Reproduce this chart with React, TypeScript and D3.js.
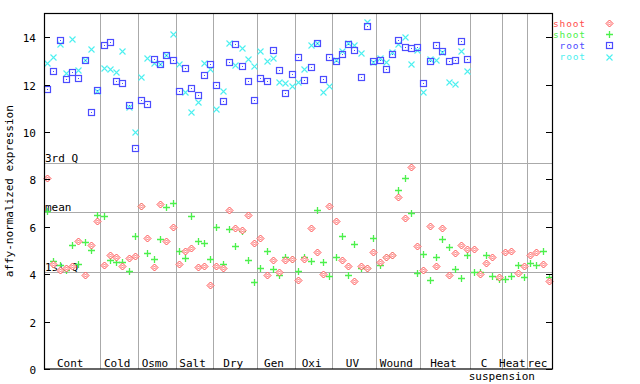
import React from "react";
import * as d3 from "d3";

const groupNames = ["Cont", "Cold", "Osmo", "Salt", "Dry", "Gen", "Oxi", "UV", "Wound", "Heat", "C", "Heat", "rec"];
const groupSizes = [9, 6, 6, 6, 7, 6, 6, 7, 7, 8, 5, 4, 4];

const shootRed = [
  8.05, 4.44, 4.16, 4.25, 4.33, 5.40, 3.95, 5.22, 6.23,
  4.37, 4.80, 4.71, 4.33, 4.67, 4.76,
  6.86, 5.51, 4.29, 6.95, 5.39, 5.98,
  4.42, 4.97, 5.09, 4.29, 4.33, 3.53,
  4.33, 4.25, 6.70, 5.94, 5.85, 6.49, 5.30,
  5.51, 3.95, 4.59, 4.08, 4.59, 4.63,
  3.74, 4.63, 5.94, 4.92, 4.00, 6.86,
  6.23, 4.59, 4.33, 3.70, 4.33, 4.25, 4.92,
  4.50, 4.71, 4.80, 7.24, 6.36, 8.51, 5.18,
  4.16, 6.02, 4.33, 5.94, 3.95, 4.88, 5.22, 5.05,
  5.05, 4.00, 4.46, 4.71, 3.87,
  4.92, 4.97, 4.04, 4.33,
  4.80, 4.92, 4.42, 3.70,
];

const shootGreen = [
  6.65, 4.54, 4.37, 4.17, 5.23, 4.42, 5.35, 5.03, 6.49,
  6.44, 4.59, 4.50, 4.50, 4.12, 5.60,
  6.86, 4.88, 4.63, 5.47, 6.82, 6.99,
  4.97, 4.67, 6.44, 5.39, 5.30, 4.63,
  5.98, 4.42, 5.89, 5.18, 5.81, 4.59, 3.66,
  4.25, 4.97, 4.21, 3.95, 4.71, 4.63,
  4.12, 4.71, 4.54, 6.70, 4.50, 3.91,
  4.71, 5.60, 3.95, 5.26, 4.25, 4.25, 5.51,
  4.37, 4.71, 4.80, 7.54, 8.05, 6.57, 4.04,
  4.84, 3.74, 4.71, 5.47, 5.14, 4.21, 3.83, 4.80,
  4.08, 4.08, 4.80, 3.91, 3.78,
  3.78, 3.91, 4.37, 3.87,
  4.46, 4.37, 4.97, 3.87,
];

const rootBlue = [
  11.80, 12.56, 13.87, 12.22, 12.52, 12.27, 13.03, 10.83, 11.76,
  13.66, 13.78, 12.14, 12.05, 11.13, 9.31,
  11.34, 11.17, 13.07, 12.86, 13.24, 13.03,
  11.72, 12.69, 11.84, 11.55, 12.39, 12.86,
  11.97, 11.30, 12.94, 13.70, 12.77, 12.14, 11.34,
  12.27, 12.14, 13.45, 12.60, 11.63, 12.43,
  13.15, 12.18, 12.73, 13.74, 12.22, 13.15,
  12.98, 13.28, 13.70, 13.45, 12.31, 14.46, 12.98,
  13.03, 12.65, 13.28, 13.87, 13.57, 13.53, 13.57,
  12.05, 12.98, 13.66, 13.40, 12.98, 13.03, 13.83, 13.07,
];

const rootCyan = [
  12.90, 13.15, 13.70, 12.48, 13.91, 12.60, 13.03, 13.49, 11.72,
  12.69, 12.65, 12.52, 13.40, 11.04, 9.99,
  12.31, 13.11, 12.90, 12.86, 13.24, 14.12,
  12.86, 11.68, 10.83, 11.25, 12.90, 12.65,
  10.96, 11.72, 13.74, 12.81, 13.53, 13.07, 12.77,
  13.40, 12.98, 13.11, 12.10, 12.05, 11.93,
  12.10, 12.65, 13.66, 13.74, 11.68, 11.93,
  13.03, 13.40, 13.74, 13.66, 13.32, 14.63, 12.94,
  13.11, 12.94, 13.36, 13.70, 13.99, 12.86, 13.45,
  11.68, 13.07, 13.03, 13.36, 12.10, 12.01, 13.40, 12.56,
];

const quartiles = [
  { label: "3rd Q", value: 8.68 },
  { label: "mean", value: 6.61 },
  { label: "1st Q", value: 4.08 },
];
const yTicks = [0, 2, 4, 6, 8, 10, 12, 14];

const legendItems = [
  { label: "shoot", color: "#ff4d4d", shape: "diamond" },
  { label: "shoot", color: "#4cf04c", shape: "plus" },
  { label: "root", color: "#4c4cff", shape: "square" },
  { label: "root", color: "#4cf0f0", shape: "cross" },
];

const FONT = "'DejaVu Sans Mono', monospace";
const L = 44, R = 552, T = 13.5, B = 369;

function Marker({ shape, x, y, color }: { shape: string; x: number; y: number; color: string }) {
  const cx = Math.round(x) + 0.5;
  const cy = Math.round(y) + 0.5;
  if (shape === "diamond") {
    return (
      <g>
        <path d={`M${cx},${cy - 3.5}L${cx + 3.5},${cy}L${cx},${cy + 3.5}L${cx - 3.5},${cy}Z`} fill="#fff" stroke={color} strokeWidth={1} />
        <path d={`M${cx},${cy - 1.5}L${cx + 1.5},${cy}L${cx},${cy + 1.5}L${cx - 1.5},${cy}Z`} fill="none" stroke={color} strokeWidth={0.8} />
      </g>
    );
  }
  if (shape === "plus") {
    return <path d={`M${cx - 3.5},${cy}H${cx + 3.5}M${cx},${cy - 3.5}V${cy + 3.5}`} stroke={color} strokeWidth={1.3} />;
  }
  if (shape === "square") {
    return (
      <g>
        <rect x={cx - 3} y={cy - 3} width={6} height={6} fill="none" stroke={color} strokeWidth={1.2} />
        <rect x={cx - 0.5} y={cy - 0.5} width={1} height={1} fill={color} />
      </g>
    );
  }
  return <path d={`M${cx - 3},${cy - 3}L${cx + 3},${cy + 3}M${cx - 3},${cy + 3}L${cx + 3},${cy - 3}`} stroke={color} strokeWidth={1.1} />;
}

export default function App() {
  const n = d3.sum(groupSizes);
  const x = d3.scaleBand<number>().domain(d3.range(n)).range([L, R]).padding(0);
  const bw = x.bandwidth();
  const y = d3.scaleLinear().domain([0, 15]).range([B, T]);
  const cx = (i: number) => (x(i) as number) + bw / 2;

  const starts: number[] = [];
  let acc = 0;
  groupSizes.forEach((s) => { starts.push(acc); acc += s; });

  const series = [
    { data: rootCyan, ...legendItems[3] },
    { data: rootBlue, ...legendItems[2] },
    { data: shootGreen, ...legendItems[1] },
    { data: shootRed, ...legendItems[0] },
  ];

  return (
    <svg width={640} height={384} style={{ position: "absolute", left: 0, top: 0, background: "#fff" }} fontFamily={FONT} fontSize={11}>
      {/* group separators */}
      {starts.slice(1).map((s, k) => {
        const px = Math.round(x(s) as number) + 0.5;
        return <line key={"sep" + k} x1={px} x2={px} y1={T} y2={B} stroke="#aaaaaa" strokeWidth={1} />;
      })}
      {/* quartile lines */}
      {quartiles.map((q) => {
        const py = Math.round(y(q.value)) + 0.5;
        return (
          <g key={q.label}>
            <line x1={L} x2={R} y1={py} y2={py} stroke="#aaaaaa" strokeWidth={1} />
            <text x={L + 1} y={py - 1.5} fill="#000">{q.label}</text>
          </g>
        );
      })}
      {/* points */}
      {series.map((s) =>
        s.data.map((v, i) => (
          <Marker key={s.shape + i} shape={s.shape} x={cx(i)} y={y(v)} color={s.color} />
        ))
      )}
      {/* frame */}
      <rect x={L + 0.5} y={T} width={R - L} height={B - T} fill="none" stroke="#000" strokeWidth={1.2} />
      {/* y ticks */}
      {yTicks.map((t) => {
        const py = Math.round(y(t)) + 0.5;
        return (
          <g key={"t" + t}>
            <line x1={L} x2={L + 6} y1={py} y2={py} stroke="#000" />
            <line x1={R - 6} x2={R} y1={py} y2={py} stroke="#000" />
            <text x={36} y={py + 4} textAnchor="end" fill="#000">{t}</text>
          </g>
        );
      })}
      <text transform={`translate(13,${(T + B) / 2}) rotate(-90)`} textAnchor="middle" fill="#000">affy-normalized expression</text>
      {/* group labels */}
      {groupNames.map((g, k) => {
        const x0 = x(starts[k]) as number;
        const x1 = x0 + groupSizes[k] * bw;
        return (
          <g key={"g" + k}>
            <text x={(x0 + x1) / 2 - 2} y={367} textAnchor="middle" fill="#000">{g}</text>
            {g === "C" && <text x={x1} y={380} textAnchor="middle" fill="#000">suspension</text>}
          </g>
        );
      })}
      {/* legend */}
      {legendItems.map((it, k) => (
        <g key={"l" + k}>
          <text x={586} y={26.5 + k * 11.2} textAnchor="end" fill={it.color} fontSize={9.5} letterSpacing={0.9}>{it.label}</text>
          <Marker shape={it.shape} x={609} y={23 + k * 11.2} color={it.color} />
        </g>
      ))}
    </svg>
  );
}
